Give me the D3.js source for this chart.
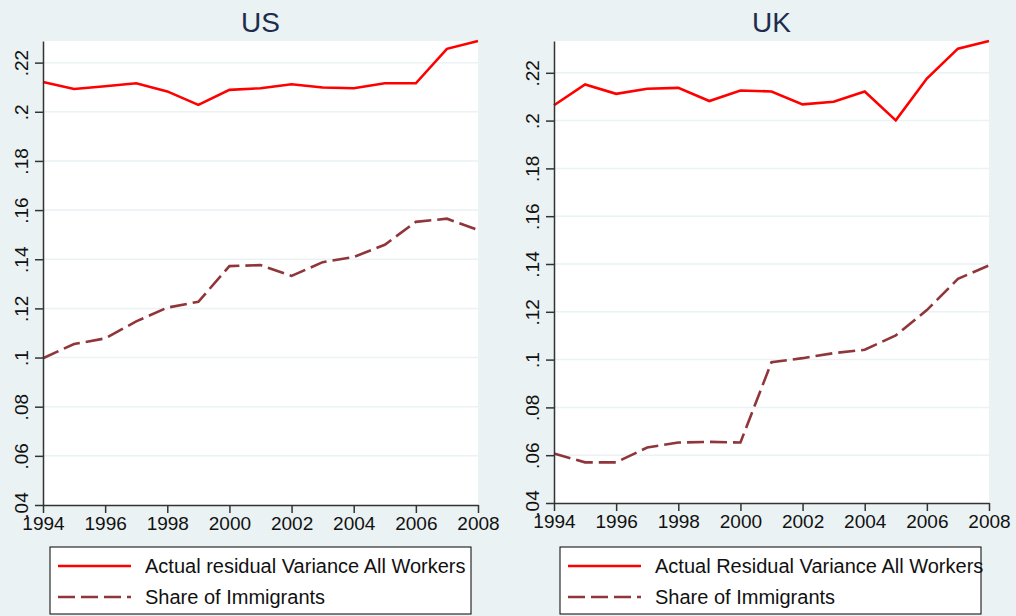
<!DOCTYPE html>
<html>
<head>
<meta charset="utf-8">
<script src="https://cdn.jsdelivr.net/npm/d3@7"></script>
<style>
  body { margin: 0; background: #eaf2f3; }
  svg { display: block; font-family: "Liberation Sans", Arial, sans-serif; }
</style>
</head>
<body>
<div id="chart"></div>
<script>
const years = [1994, 1995, 1996, 1997, 1998, 1999, 2000, 2001, 2002, 2003, 2004, 2005, 2006, 2007, 2008];
const xTicks = [1994, 1996, 1998, 2000, 2002, 2004, 2006, 2008];
const yTicks = [0.04, 0.06, 0.08, 0.1, 0.12, 0.14, 0.16, 0.18, 0.2, 0.22];

const usResidual = [0.2121, 0.2093, 0.2104, 0.2116, 0.2083, 0.2028, 0.2089, 0.2096, 0.2112, 0.2099, 0.2096, 0.2116, 0.2116, 0.2256, 0.2288];
const usImmigrants = [0.0997, 0.1055, 0.1078, 0.1147, 0.1203, 0.1227, 0.1372, 0.1376, 0.1332, 0.1388, 0.1409, 0.1459, 0.1552, 0.1565, 0.1519];
const ukResidual = [0.2064, 0.2151, 0.2112, 0.2133, 0.2137, 0.2082, 0.2126, 0.2122, 0.2068, 0.2079, 0.2122, 0.2001, 0.2176, 0.2301, 0.2333];
const ukImmigrants = [0.0607, 0.0570, 0.0570, 0.0632, 0.0653, 0.0656, 0.0653, 0.0989, 0.1006, 0.1027, 0.1041, 0.1101, 0.1207, 0.1338, 0.1394];

const bg = '#eaf2f3';
const red = '#ff0000';
const maroon = '#903539';
const fmt = d => d3.format('.2~f')(d).replace(/^0/, '');

const svg = d3.select('#chart')
    .append('svg')
    .attr('width', 1016)
    .attr('height', 616);

svg.append('rect').attr('width', 1016).attr('height', 616).attr('fill', bg);

function panel(opts) {
    const x = d3.scaleLinear().domain([1994, 2008]).range([opts.left, opts.right]);
    const yMax = d3.max(opts.a.concat(opts.b));
    const y = d3.scaleLinear().domain([0.04, yMax]).range([opts.bottom, 41]);

    const g = svg.append('g');

    g.append('rect')
        .attr('x', opts.left).attr('y', 41)
        .attr('width', opts.right - opts.left)
        .attr('height', opts.bottom - 41)
        .attr('fill', '#fff');

    // gridlines
    g.selectAll('.grid')
        .data(yTicks.slice(1))
        .enter().append('line')
        .attr('x1', opts.left).attr('x2', opts.right)
        .attr('y1', d => y(d)).attr('y2', d => y(d))
        .attr('stroke', bg).attr('stroke-width', 1.5);

    g.append('text')
        .attr('x', (opts.left + opts.right) / 2)
        .attr('y', 32)
        .attr('text-anchor', 'middle')
        .style('font-size', '28px')
        .attr('fill', '#1e2d4e')
        .text(opts.title);

    const line = d3.line()
        .x((d, i) => x(years[i]))
        .y(d => y(d));

    g.append('path')
        .datum(opts.b)
        .attr('fill', 'none')
        .attr('stroke', maroon)
        .attr('stroke-width', 2.6)
        .attr('stroke-dasharray', '17,6')
        .attr('d', line);

    g.append('path')
        .datum(opts.a)
        .attr('fill', 'none')
        .attr('stroke', red)
        .attr('stroke-width', 2.6)
        .attr('d', line);

    const xAxis = g.append('g')
        .attr('transform', 'translate(0,' + opts.bottom + ')')
        .call(d3.axisBottom(x).tickValues(xTicks).tickFormat(d => d).tickSize(8).tickSizeOuter(0));
    xAxis.selectAll('text').style('font-size', '19px').attr('fill', '#111').attr('dy', '0.71em').attr('y', 12);

    const yAxis = g.append('g')
        .attr('transform', 'translate(' + opts.left + ',0)')
        .call(d3.axisLeft(y).tickValues(yTicks).tickFormat(fmt).tickSize(8).tickSizeOuter(0));
    yAxis.selectAll('text')
        .style('font-size', '19px')
        .attr('fill', '#111')
        .attr('x', null).attr('y', null).attr('dy', null)
        .attr('text-anchor', 'middle')
        .attr('transform', 'translate(-15,0) rotate(-90)');

    [xAxis, yAxis].forEach(a => {
        a.select('.domain').attr('stroke', '#333').attr('stroke-width', 1.5);
        a.selectAll('.tick line').attr('stroke', '#333').attr('stroke-width', 1.5);
    });

    // legend
    const lg = g.append('g');
    lg.append('rect')
        .attr('x', opts.legendX).attr('y', 547)
        .attr('width', 421).attr('height', 67)
        .attr('fill', '#fff').attr('stroke', '#000').attr('stroke-width', 1);
    const items = [
        { label: opts.labelA, color: red, dash: null, y: 566 },
        { label: 'Share of Immigrants', color: maroon, dash: '17,6', y: 597 }
    ];
    items.forEach(it => {
        lg.append('line')
            .attr('x1', opts.legendX + 8).attr('x2', opts.legendX + 81)
            .attr('y1', it.y).attr('y2', it.y)
            .attr('stroke', it.color).attr('stroke-width', 2.6)
            .attr('stroke-dasharray', it.dash);
        lg.append('text')
            .attr('x', opts.legendX + 95).attr('y', it.y + 7)
            .style('font-size', '20px')
            .attr('fill', '#111')
            .text(it.label);
    });
}

panel({ title: 'US', left: 43, right: 478, bottom: 505, a: usResidual, b: usImmigrants,
        legendX: 50, labelA: 'Actual residual Variance All Workers' });
panel({ title: 'UK', left: 554, right: 989, bottom: 503, a: ukResidual, b: ukImmigrants,
        legendX: 560, labelA: 'Actual Residual Variance All Workers' });
</script>
</body>
</html>
